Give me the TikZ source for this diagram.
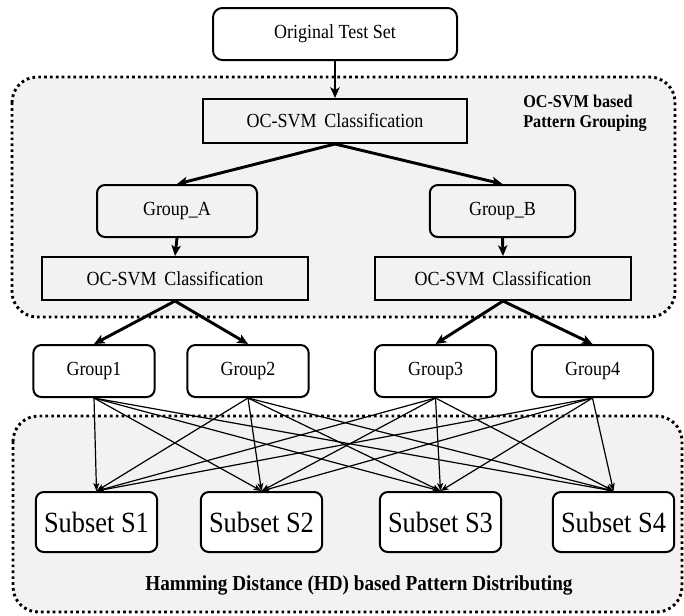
\documentclass[tikz,border=0pt]{standalone}
\usepackage{fontspec}
\setmainfont[FakeStretch=0.9]{Liberation Serif}
\usetikzlibrary{arrows.meta}
\definecolor{panelgray}{HTML}{F2F2F2}
\tikzset{
  panel/.style={draw=black, fill=panelgray, line width=2.2pt,
    dash pattern=on 2pt off 2.4pt, rounded corners=19pt},
  roundbox/.style={draw, line width=1.5pt, rounded corners=6pt, inner sep=0pt,
    align=center, font=\fontsize{15}{17}\selectfont},
  whitebox/.style={roundbox, fill=white},
  svmbox/.style={draw, line width=1.5pt, inner sep=0pt, align=center,
    minimum width=198pt, minimum height=33pt, font=\fontsize{15}{17}\selectfont},
  groupbox/.style={whitebox, minimum width=91pt, minimum height=39pt},
  subsetbox/.style={whitebox, minimum width=91pt, minimum height=45pt,
    font=\fontsize{22}{24}\selectfont},
  paneltitle/.style={font=\bfseries\fontsize{13.5}{15}\selectfont, inner sep=0pt},
  thick arrow/.style={line width=2.2pt, -{Stealth[length=8pt,width=7pt,inset=2pt]}},
  thin arrow/.style={line width=0.9pt, -{Stealth[length=6pt,width=4.5pt,inset=1.5pt]}}
}
\begin{document}
\begin{tikzpicture}[x=0.75pt, y=-0.75pt]
\useasboundingbox (0,0) rectangle (684,615);

% dotted panels
\path[panel] (12,77) rectangle (675,317);
\path[panel] (13,416) rectangle (682,612);

% panel titles
\node[paneltitle, anchor=west, align=left] (titleA) at (523,113)
  {OC-SVM based\\Pattern Grouping};
\node[paneltitle, font=\bfseries\fontsize{16}{18}\selectfont] (titleB) at (359,585)
  {Hamming Distance (HD) based Pattern Distributing};

% first stage
\node[whitebox, minimum width=183pt, minimum height=39pt, rounded corners=7pt]
  (orig) at (335,34) {Original Test Set};
\node[svmbox] (oc0) at (335,121) {OC-SVM\, Classification};

\node[roundbox, minimum width=120pt, minimum height=39pt] (grpA) at (177,211) {Group\_A};
\node[roundbox, minimum width=109pt, minimum height=39pt] (grpB) at (502.5,211) {Group\_B};

\node[svmbox, minimum width=199.5pt, minimum height=32.25pt] (ocA) at (175,278.5)
  {OC-SVM\, Classification};
\node[svmbox, minimum width=192pt, minimum height=32.25pt] (ocB) at (503,278.5)
  {OC-SVM\, Classification};

% groups
\node[groupbox] (g1) at (94,371) {Group1};
\node[groupbox] (g2) at (248,371) {Group2};
\node[groupbox] (g3) at (435.5,371) {Group3};
\node[groupbox] (g4) at (592.5,371) {Group4};

% subsets
\node[subsetbox] (s1) at (96.5,522) {Subset S1};
\node[subsetbox] (s2) at (261.5,522) {Subset S2};
\node[subsetbox] (s3) at (440.5,522) {Subset S3};
\node[subsetbox] (s4) at (613.5,522) {Subset S4};

% classification flow
\draw[thick arrow] (orig.south) -- (oc0.north);
\draw[thick arrow] (oc0.south) -- (grpA.north);
\draw[thick arrow] (oc0.south) -- (grpB.north);
\draw[thick arrow] (grpA.south) -- (ocA.north);
\draw[thick arrow] (grpB.south) -- (ocB.north);
\draw[thick arrow] (ocA.south) -- (g1.north);
\draw[thick arrow] (ocA.south) -- (g2.north);
\draw[thick arrow] (ocB.south) -- (g3.north);
\draw[thick arrow] (ocB.south) -- (g4.north);

% distribution of every group to every subset
\foreach \g in {g1,g2,g3,g4}{
  \foreach \s in {s1,s2,s3,s4}{
    \draw[thin arrow] (\g.south) -- (\s.north);
  }
}
\end{tikzpicture}
\end{document}
